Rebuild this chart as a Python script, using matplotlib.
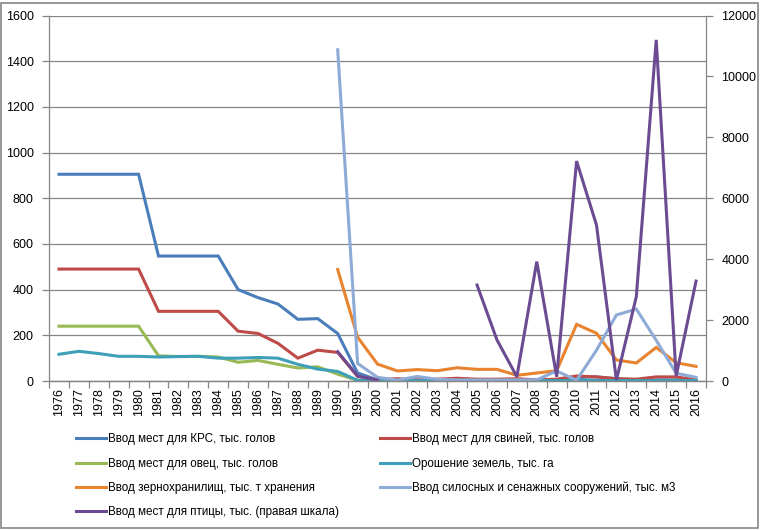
import numpy as np
import matplotlib
matplotlib.use("Agg")
import matplotlib.pyplot as plt
from matplotlib.patches import Rectangle

plt.rcParams['font.family'] = ['Liberation Sans', 'DejaVu Sans']
plt.rcParams['font.size'] = 9

nan = np.nan

years = ["1976", "1977", "1978", "1979", "1980", "1981", "1982", "1983", "1984",
         "1985", "1986", "1987", "1988", "1989", "1990", "1995", "2000", "2001",
         "2002", "2003", "2004", "2005", "2006", "2007", "2008", "2009", "2010",
         "2011", "2012", "2013", "2014", "2015", "2016"]

krs = [905, 905, 905, 905, 905, 547, 547, 547, 547, 400, 365, 337, 270, 273, 208,
       35, 5, 3, 3, 3, 3, 3, 3, 3, 3, 5, 15, 18, 10, 5, 5, 5, 3]
pigs = [490, 490, 490, 490, 490, 305, 305, 305, 305, 218, 208, 165, 100, 135, 125,
        20, 5, 10, 5, 8, 12, 8, 8, 10, 5, 8, 22, 18, 10, 8, 18, 18, 5]
sheep = [240, 240, 240, 240, 240, 110, 107, 108, 105, 82, 90, 73, 57, 62, 30,
         3, 1, 1, 1, 1, 1, 1, 1, 1, 1, 1, 1, 1, 1, 1, 1, 1, 1]
irrigation = [117, 130, 120, 108, 108, 105, 107, 108, 100, 100, 103, 100, 73, 52, 42,
              3, 2, 2, 2, 2, 2, 2, 2, 2, 2, 2, 2, 2, 2, 2, 2, 2, 2]
grain = [nan, nan, nan, nan, nan, nan, nan, nan, nan, nan, nan, nan, nan, nan, 488,
         192, 74, 44, 50, 45, 58, 51, 51, 25, 35, 45, 248, 209, 92, 79, 147, 80, 64]
silo = [nan, nan, nan, nan, nan, nan, nan, nan, nan, nan, nan, nan, nan, nan, 1450,
        77, 16, 4, 20, 7, 5, 5, 5, 5, 5, 44, 3, 135, 289, 315, 178, 34, 16]
poultry = [nan, nan, nan, nan, nan, nan, nan, nan, nan, nan, nan, nan, nan, nan, 962,
           164, 30, nan, nan, nan, nan, 3150, 1350, 140, 3920, 140, 7220, 5120, 30,
           2770, 11200, 160, 3280]

labels = ["Ввод мест для КРС, тыс. голов",
          "Ввод мест для свиней, тыс. голов",
          "Ввод мест для овец, тыс. голов",
          "Орошение земель, тыс. га",
          "Ввод зернохранилищ, тыс. т хранения",
          "Ввод силосных и сенажных сооружений, тыс. м3",
          "Ввод мест для птицы, тыс. (правая шкала)"]
colors = ["#4A7EBB", "#BE4B48", "#98B954", "#3E9FB8", "#E8842F", "#8EAAD6", "#6B4C93"]

W, H = 763, 530
fig = plt.figure(figsize=(W / 100, H / 100), dpi=100)
ax = fig.add_axes([49 / W, 1 - 381 / H, (706 - 49) / W, (381 - 15.5) / H])
ax2 = ax.twinx()

x = np.arange(len(years))
left_series = [krs, pigs, sheep, irrigation, grain, silo]
handles = []
for vals, c in zip(left_series, colors[:6]):
    h, = ax.plot(x, vals, color=c, lw=2.2, solid_joinstyle='miter')
    handles.append(h)
h, = ax2.plot(x, poultry, color=colors[6], lw=2.2, solid_joinstyle='miter')
handles.append(h)

grid_c = "#868686"
ax.set_xlim(-0.5, len(years) - 0.5)
ax.set_ylim(0, 1600)
ax.set_yticks(np.arange(0, 1601, 200))
ax2.set_ylim(0, 12000)
ax2.set_yticks(np.arange(0, 12001, 2000))
ax.yaxis.grid(True, color=grid_c, lw=0.9)
ax.set_axisbelow(True)

ax.set_xticks(x)
ax.set_xticklabels(years, rotation=90)
ax.set_xticks(np.arange(-0.5, len(years), 1), minor=True)
ax.tick_params(axis='x', which='major', length=0, pad=5)
ax.tick_params(axis='x', which='minor', length=5, color=grid_c, width=0.9)
ax.tick_params(axis='y', length=5, color=grid_c, width=0.9, pad=6)
ax2.tick_params(axis='y', length=5, color=grid_c, width=0.9, pad=6)

for a in (ax, ax2):
    a.spines['top'].set_visible(False)
    for s in ('left', 'right', 'bottom'):
        a.spines[s].set_color(grid_c)
        a.spines[s].set_linewidth(0.9)
ax.spines['right'].set_visible(False)
ax2.spines['left'].set_visible(False)

# Excel fills the legend row by row, matplotlib column by column
order = [0, 2, 4, 6, 1, 3, 5]
fig.legend([handles[i] for i in order], [labels[i] for i in order],
           ncol=2, loc='upper left', bbox_to_anchor=(70 / W, 1 - 427 / H),
           frameon=False, borderpad=0, handlelength=2.55, handletextpad=0.17,
           labelspacing=1.05, columnspacing=3.6, fontsize=8.4)

fig.patches.append(Rectangle((1.5 / W, 2.5 / H), (758 - 1.5) / W, (527 - 2.5) / H,
                             transform=fig.transFigure, fill=False,
                             edgecolor=grid_c, lw=1.2))

fig.savefig("out.png", dpi=100)
